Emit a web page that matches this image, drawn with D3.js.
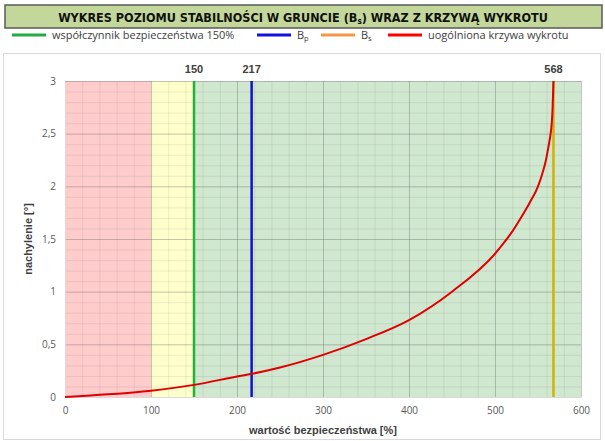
<!DOCTYPE html>
<html>
<head>
<meta charset="utf-8">
<script src="https://cdn.jsdelivr.net/npm/d3@7"></script>
<style>
  body { margin: 0; background: #fff; }
  svg { display: block; }
</style>
</head>
<body>
<svg></svg>
<script>
// curve: safety value [%] vs slope [deg]
const curveX = [0, 50, 100, 150, 200, 217, 250, 300, 350, 400, 450, 500, 510, 520, 530, 540, 550, 555, 559, 562, 565, 566, 567, 568];
const curveY = [0, 0.025, 0.06, 0.115, 0.195, 0.22, 0.28, 0.40, 0.55, 0.73, 1.0, 1.36, 1.46, 1.57, 1.70, 1.84, 2.0, 2.12, 2.24, 2.37, 2.52, 2.6, 2.75, 3.0];

const zoneStart = [0, 100, 150];
const zoneEnd = [100, 150, 600];
const zoneColors = ['#ffcccc', '#ffffcc', '#d0e8cf'];

const markerValues = [150, 217, 568];
const markerColors = ['#22b23a', '#1010d0', '#d4b100'];

const legendNames = ['współczynnik bezpieczeństwa 150%', 'B', 'B', 'uogólniona krzywa wykrotu'];
const legendSubs = ['', 'p', 's', ''];
const legendColors = ['#1fae3f', '#1010e0', '#f79646', '#ff0000'];

const xTicks = [0, 100, 200, 300, 400, 500, 600];
const yTicks = [0, 0.5, 1, 1.5, 2, 2.5, 3];

const width = 605;
const height = 441;
const margin = {left: 65, right: 24, top: 81, bottom: 44};
const plotW = width - margin.left - margin.right;
const plotH = height - margin.top - margin.bottom;

const svg = d3.select('svg').attr('width', width).attr('height', height);

// outer chart frame
svg.append('rect')
    .attr('x', 3.5).attr('y', 53.5)
    .attr('width', 597).attr('height', 386)
    .attr('fill', '#fff').attr('stroke', '#d9d9d9');

// title box
svg.append('rect')
    .attr('x', 5).attr('y', 5)
    .attr('width', 597).attr('height', 23)
    .attr('fill', '#c4d79b').attr('stroke', '#595959').attr('stroke-width', 1.5);

const title = svg.append('text')
    .attr('x', 303).attr('y', 22)
    .attr('text-anchor', 'middle')
    .style('font-family', '"DejaVu Sans Condensed", "Liberation Sans Narrow", sans-serif')
    .style('font-weight', 'bold').style('font-size', '14px').attr('fill', '#111');
title.append('tspan').text('WYKRES POZIOMU STABILNOŚCI W GRUNCIE (B');
title.append('tspan').attr('font-size', '8px').attr('dy', 2).text('s');
title.append('tspan').attr('dy', -2).text(') WRAZ Z KRZYWĄ WYKROTU');
// shrink the font so the title spans roughly 490px like the original
const tw = title.node().getComputedTextLength();
title.style('font-size', (14 * 490 / tw).toFixed(2) + 'px');

// legend
const legendX = [12, 257, 321, 388];
const legend = svg.append('g').attr('class', 'legend')
    .style('font-family', '"Open Sans", sans-serif').style('font-size', '11px');

legendNames.forEach((name, i) => {
  const lg = legend.append('g').attr('transform', 'translate(' + legendX[i] + ',35)');
  lg.append('line').attr('x1', 0).attr('x2', 34).attr('y1', 0).attr('y2', 0)
      .attr('stroke', legendColors[i]).attr('stroke-width', 3);
  const t = lg.append('text').attr('x', 40).attr('y', 4).attr('fill', '#404040').text(name);
  if (legendSubs[i]) {
    t.append('tspan').attr('font-size', '7.5px').attr('dy', 2).text(legendSubs[i]);
  }
});

const xScale = d3.scaleLinear().domain([0, 600]).range([0, plotW]);
const yScale = d3.scaleLinear().domain([0, 3]).range([plotH, 0]);

const g = svg.append('g').attr('transform', 'translate(' + margin.left + ',' + margin.top + ')');

// coloured zones
g.selectAll('.zone')
  .data(zoneStart)
  .enter()
  .append('rect')
  .attr('class', 'zone')
  .attr('x', d => xScale(d))
  .attr('y', 0)
  .attr('width', (d, i) => xScale(zoneEnd[i]) - xScale(d))
  .attr('height', plotH)
  .attr('fill', (d, i) => zoneColors[i]);

// minor grid
g.append('g')
    .attr('class', 'gridMinorX')
    .attr('transform', 'translate(0,' + plotH + ')')
    .call(d3.axisBottom(xScale).ticks(30).tickSize(-plotH).tickFormat(''))
    .call(a => a.select('.domain').remove())
    .call(a => a.selectAll('line').attr('stroke', 'rgba(110,110,110,0.13)'));

g.append('g')
    .attr('class', 'gridMinorY')
    .call(d3.axisLeft(yScale).ticks(30).tickSize(-plotW).tickFormat(''))
    .call(a => a.select('.domain').remove())
    .call(a => a.selectAll('line').attr('stroke', 'rgba(110,110,110,0.13)'));

// major grid
g.append('g')
    .attr('class', 'gridX')
    .attr('transform', 'translate(0,' + plotH + ')')
    .call(d3.axisBottom(xScale).tickValues(xTicks).tickSize(-plotH).tickFormat(''))
    .call(a => a.select('.domain').remove())
    .call(a => a.selectAll('line').attr('stroke', 'rgba(100,100,100,0.28)'));

g.append('g')
    .attr('class', 'gridY')
    .call(d3.axisLeft(yScale).tickValues(yTicks).tickSize(-plotW).tickFormat(''))
    .call(a => a.select('.domain').remove())
    .call(a => a.selectAll('line').attr('stroke', 'rgba(100,100,100,0.28)'));

// axes labels
const fmt = d => String(d).replace('.', ',');

g.append('g')
    .attr('class', 'axisX')
    .attr('transform', 'translate(0,' + plotH + ')')
    .call(d3.axisBottom(xScale).tickValues(xTicks).tickSize(0).tickPadding(10).tickFormat(fmt))
    .call(a => a.select('.domain').attr('stroke', '#d9d9d9'))
    .call(a => a.selectAll('text').attr('fill', '#595959')
        .style('font-family', '"Open Sans", sans-serif').style('font-size', '10px'));

g.append('g')
    .attr('class', 'axisY')
    .call(d3.axisLeft(yScale).tickValues(yTicks).tickSize(0).tickPadding(9).tickFormat(fmt))
    .call(a => a.select('.domain').attr('stroke', '#d9d9d9'))
    .call(a => a.selectAll('text').attr('fill', '#595959')
        .style('font-family', '"Open Sans", sans-serif').style('font-size', '10px'));

// marker lines
g.selectAll('.marker')
  .data(markerValues)
  .enter()
  .append('line')
  .attr('class', 'marker')
  .attr('x1', d => xScale(d)).attr('x2', d => xScale(d))
  .attr('y1', yScale(3)).attr('y2', yScale(0))
  .attr('stroke', (d, i) => markerColors[i])
  .attr('stroke-width', 2.5);

g.selectAll('.markerLabel')
  .data(markerValues)
  .enter()
  .append('text')
  .attr('class', 'markerLabel')
  .attr('x', d => xScale(d))
  .attr('y', -8)
  .attr('text-anchor', 'middle')
  .attr('fill', '#404040')
  .style('font-family', '"Liberation Sans", sans-serif')
  .style('font-weight', 'bold').style('font-size', '11px')
  .text(d => d);

// curve
const line = d3.line()
    .x(d => xScale(d[0]))
    .y(d => yScale(d[1]))
    .curve(d3.curveMonotoneX);

g.append('path')
    .datum(curveX.map((x, i) => [x, curveY[i]]))
    .attr('fill', 'none')
    .attr('stroke', '#e00000')
    .attr('stroke-width', 2)
    .attr('d', line);

// axis titles
g.append('text')
    .attr('x', plotW / 2).attr('y', plotH + 37)
    .attr('text-anchor', 'middle').attr('fill', '#404040')
    .style('font-family', '"Liberation Sans", sans-serif')
    .style('font-weight', 'bold').style('font-size', '11px')
    .text('wartość bezpieczeństwa [%]');

g.append('text')
    .attr('transform', 'translate(-33,' + (plotH / 2) + ') rotate(-90)')
    .attr('text-anchor', 'middle').attr('fill', '#404040')
    .style('font-family', '"Liberation Sans", sans-serif')
    .style('font-weight', 'bold').style('font-size', '11px')
    .text('nachylenie [°]');
</script>
</body>
</html>
